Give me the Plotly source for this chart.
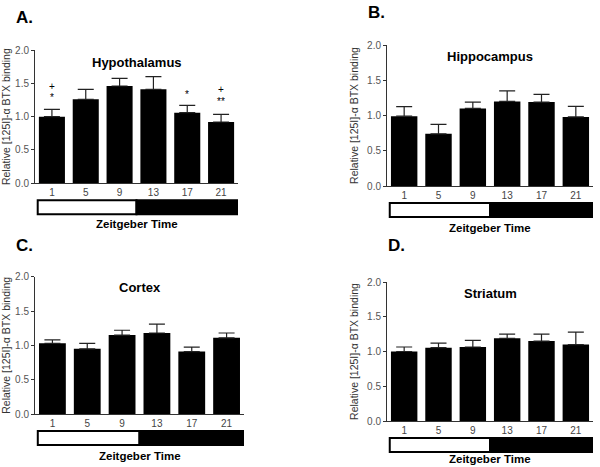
import plotly.graph_objects as go

zt_labels = ["1", "5", "9", "13", "17", "21"]

hyp_mean = [1.00, 1.26, 1.46, 1.41, 1.06, 0.92]
hyp_err = [0.11, 0.15, 0.115, 0.19, 0.11, 0.115]
hip_mean = [0.99, 0.74, 1.10, 1.20, 1.19, 0.98]
hip_err = [0.135, 0.135, 0.09, 0.15, 0.11, 0.15]
cor_mean = [1.03, 0.95, 1.15, 1.18, 0.91, 1.11]
cor_err = [0.05, 0.08, 0.07, 0.13, 0.065, 0.07]
str_mean = [1.00, 1.055, 1.065, 1.19, 1.15, 1.10]
str_err = [0.065, 0.065, 0.095, 0.06, 0.10, 0.18]

panels = [
    # letter, title, means, errs, xdomain(px), ybottom(px), ytop(px), letter pos, title y, xlabel offset
    ("A.", "Hypothalamus", hyp_mean, hyp_err, (35, 238), 183.3, 50, (14, 6), 1.82, 41),
    ("B.", "Hippocampus", hip_mean, hip_err, (387, 593), 186, 45, (366, 1), 1.84, 42),
    ("C.", "Cortex", cor_mean, cor_err, (35, 244), 414, 276.7, (14, 234), 1.85, 42),
    ("D.", "Striatum", str_mean, str_err, (387, 593), 421, 282, (386, 234), 1.84, 38),
]

W, H = 600, 467
fig = go.Figure()
font_fam = "Liberation Sans, Arial, sans-serif"
xpos = list(range(len(zt_labels)))
shapes = []
annotations = []

for i, (letter, title, means, errs, xd, yb, yt, lpos, ty, xo) in enumerate(panels):
    n = "" if i == 0 else str(i + 1)
    xa, ya = "x" + n, "y" + n
    fig.add_trace(go.Bar(
        x=xpos, y=means, xaxis=xa, yaxis=ya, width=0.77,
        marker=dict(color="black", line=dict(width=0)),
        error_y=dict(type="data", array=errs, arrayminus=[0] * len(errs),
                     symmetric=False, color="#222", thickness=1.2, width=8),
        showlegend=False, hoverinfo="skip"))
    ydom = [1 - yb / H, 1 - yt / H]
    fig.layout["xaxis" + n] = dict(
        domain=[xd[0] / W, xd[1] / W], anchor=ya, range=[-0.5, 5.5],
        tickmode="array", tickvals=xpos, ticktext=zt_labels, ticks="",
        showline=True, linecolor="#333", linewidth=1, showgrid=False, zeroline=False,
        automargin=False,
        tickfont=dict(family=font_fam, size=10, color="#444"), fixedrange=True)
    fig.layout["yaxis" + n] = dict(
        domain=ydom, anchor=xa, range=[0, 2], tickvals=[0, 0.5, 1, 1.5, 2],
        tickformat=".1f", ticks="outside", ticklen=3, tickcolor="#333",
        showline=True, linecolor="#333", linewidth=1, showgrid=False, zeroline=False,
        automargin=False,
        tickfont=dict(family=font_fam, size=10, color="#555"),
        title=dict(text="Relative [125I]-\u03b1 BTX binding", standoff=6,
                   font=dict(family=font_fam, size=10.5, color="#333")),
        fixedrange=True)
    # light/dark bar below the axis
    ld_top = 1 - (yb + 17) / H
    ld_bot = 1 - (yb + 31) / H
    shapes.append(dict(type="rect", xref=xa, yref="paper", x0=-0.42, x1=2.5,
                       y0=ld_bot, y1=ld_top, fillcolor="white",
                       line=dict(color="black", width=2)))
    shapes.append(dict(type="rect", xref=xa, yref="paper", x0=2.5, x1=5.55,
                       y0=ld_bot, y1=ld_top, fillcolor="black",
                       line=dict(color="black", width=2)))
    annotations.append(dict(text="<b>Zeitgeber Time</b>", xref=xa, yref="paper",
                            x=2.5, y=1 - (yb + xo) / H, showarrow=False,
                            xanchor="center", yanchor="middle",
                            font=dict(family=font_fam, size=11.5, color="black")))
    annotations.append(dict(text="<b>" + title + "</b>", xref=xa, yref=ya,
                            x=2.5, y=ty, showarrow=False,
                            xanchor="center", yanchor="middle",
                            font=dict(family=font_fam, size=13, color="black")))
    annotations.append(dict(text="<b>" + letter + "</b>", xref="paper", yref="paper",
                            x=lpos[0] / W, y=1 - lpos[1] / H, xanchor="left", yanchor="top",
                            showarrow=False,
                            font=dict(family=font_fam, size=17, color="black")))

# significance marks on hypothalamus
sig_x = [0, 0, 4, 5, 5]
sig_y = [1.45, 1.28, 1.33, 1.40, 1.22]
sig_t = ["+", "*", "*", "+", "**"]
for sx, sy, st in zip(sig_x, sig_y, sig_t):
    annotations.append(dict(text=st, xref="x", yref="y", x=sx, y=sy, showarrow=False,
                            xanchor="center", yanchor="middle",
                            font=dict(family=font_fam, size=10, color="black")))

fig.update_layout(width=W, height=H, margin=dict(l=0, r=0, t=0, b=0),
                  paper_bgcolor="white", plot_bgcolor="white", bargap=0.23,
                  shapes=shapes, annotations=annotations)
fig.write_html("out.html", config={"displayModeBar": False},
               post_script="document.body.style.margin='0';document.body.style.overflow='hidden';")
